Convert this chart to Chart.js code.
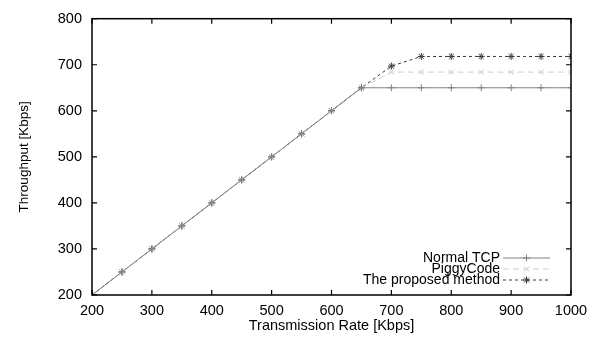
<!DOCTYPE html>
<html>
<head>
<meta charset="utf-8">
<script src="https://cdn.jsdelivr.net/npm/chart.js@4.4.0/dist/chart.umd.min.js"></script>
<style>
  html, body { margin: 0; padding: 0; background: #fff; }
  #wrap { width: 600px; height: 338px; }
</style>
</head>
<body>
<div id="wrap"><canvas id="myChart"></canvas></div>
<script>
var rates = [200, 250, 300, 350, 400, 450, 500, 550, 600, 650, 700, 750, 800, 850, 900, 950, 1000];
var normalTcp = [200, 250, 300, 350, 400, 450, 500, 550, 600, 650, 650, 650, 650, 650, 650, 650, 650];
var piggyCode = [200, 250, 300, 350, 400, 450, 500, 550, 600, 650, 684, 684, 684, 684, 684, 684, 684];
var proposed = [200, 250, 300, 350, 400, 450, 500, 550, 600, 650, 697, 718, 718, 718, 718, 718, 718];
var seriesNames = ['Normal TCP', 'PiggyCode', 'The proposed method'];

var FONT = 'Liberation Sans';

function toPoints(ys) {
    return rates.map(function(x, i){ return {x: x, y: ys[i]}; });
}

// gnuplot style frame, inward ticks on all sides and key
var framePlugin = {
    id: 'frame',
    afterDraw: function(chart) {
        var ctx = chart.ctx;
        var a = chart.chartArea;
        var xs = chart.scales.x, ys = chart.scales.y;
        ctx.save();
        ctx.strokeStyle = '#000';
        ctx.lineWidth = 1.5;
        ctx.strokeRect(a.left, a.top, a.right - a.left, a.bottom - a.top);
        ctx.lineWidth = 1.2;
        ctx.beginPath();
        xs.ticks.forEach(function(t){
            var px = xs.getPixelForValue(t.value);
            ctx.moveTo(px, a.bottom); ctx.lineTo(px, a.bottom - 5);
            ctx.moveTo(px, a.top); ctx.lineTo(px, a.top + 5);
        });
        ys.ticks.forEach(function(t){
            var py = ys.getPixelForValue(t.value);
            ctx.moveTo(a.left, py); ctx.lineTo(a.left + 5, py);
            ctx.moveTo(a.right, py); ctx.lineTo(a.right - 5, py);
        });
        ctx.stroke();

        // key
        var textRight = a.right - 71;
        var x0 = textRight + 3, x1 = a.right - 21;
        var y0 = a.bottom - 37;
        ctx.font = '14px "' + FONT + '"';
        ctx.textAlign = 'right';
        ctx.textBaseline = 'middle';
        chart.data.datasets.forEach(function(ds, i){
            var y = y0 + i * 11;
            ctx.fillStyle = '#000';
            ctx.fillText(ds.label, textRight, y);
            ctx.strokeStyle = ds.borderColor;
            ctx.lineWidth = ds.borderWidth;
            ctx.setLineDash(ds.borderDash || []);
            ctx.beginPath();
            ctx.moveTo(x0, y); ctx.lineTo(x1, y);
            ctx.stroke();
            ctx.setLineDash([]);
            Chart.helpers.drawPoint(ctx, {
                pointStyle: ds.pointStyle, radius: ds.pointRadius, rotation: 0,
                borderWidth: 1
            }, (x0 + x1) / 2, y);
        });
        ctx.restore();
    }
};

document.addEventListener('DOMContentLoaded', function(){
    var data = {
        datasets: [{
            label: seriesNames[0],
            data: toPoints(normalTcp),
            borderColor: '#808080',
            backgroundColor: '#808080',
            borderWidth: 1,
            pointStyle: 'cross',
            pointRadius: 3.5,
            pointBorderWidth: 1
        }, {
            label: seriesNames[1],
            data: toPoints(piggyCode),
            borderColor: '#cfcfcf',
            backgroundColor: '#cfcfcf',
            borderWidth: 1,
            borderDash: [6, 4],
            pointStyle: 'crossRot',
            pointRadius: 3.5,
            pointBorderWidth: 1
        }, {
            label: seriesNames[2],
            data: toPoints(proposed),
            borderColor: '#3a3a3a',
            backgroundColor: '#3a3a3a',
            borderWidth: 1,
            borderDash: [3, 3],
            pointStyle: 'star',
            pointRadius: 3.5,
            pointBorderWidth: 1
        }]
    };
    var options = {
        responsive: true,
        maintainAspectRatio: false,
        animation: false,
        layout: { padding: { left: 0, right: 29, top: 15, bottom: 0 } },
        plugins: { legend: { display: false }, tooltip: { enabled: false } },
        scales: {
            x: {
                type: 'linear', min: 200, max: 1000,
                grid: { display: false, drawTicks: false, tickLength: 0 },
                border: { display: false },
                ticks: { stepSize: 100, padding: 7, color: '#000', font: { family: FONT, size: 14.5 },
                         callback: function(v){ return String(v); } },
                title: { display: true, text: 'Transmission Rate [Kbps]', color: '#000', padding: { top: 2, bottom: 3 }, font: { family: FONT, size: 14.5 } },
                afterFit: function(s){ s.height = 43; }
            },
            y: {
                type: 'linear', min: 200, max: 800,
                grid: { display: false, drawTicks: false, tickLength: 0 },
                border: { display: false },
                ticks: { stepSize: 100, padding: 10, color: '#000', font: { family: FONT, size: 14.5 },
                         callback: function(v){ return String(v); } },
                title: { display: true, text: 'Throughput [Kbps]', color: '#000', padding: { top: 16, bottom: 0 }, font: { family: FONT, size: 13.5 } },
                afterFit: function(s){ s.width = 92; }
            }
        }
    };
    var ctx = document.getElementById('myChart').getContext('2d');
    var myChart = new Chart(ctx, {
        type: 'line',
        data: data,
        options: options,
        plugins: [framePlugin]
    });
});
</script>
</body>
</html>
